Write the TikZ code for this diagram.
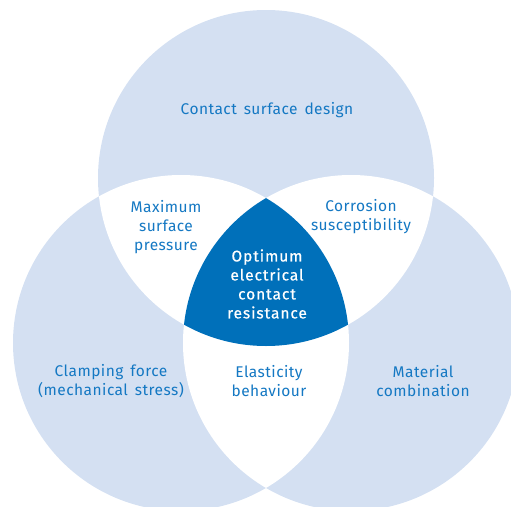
\documentclass[tikz,border=0pt]{standalone}
\usepackage{fontspec}
\setmainfont{Fira Sans}
\newfontfamily\lblfont[LetterSpace=3,WordSpace=1.5]{Fira Sans}
\newfontfamily\corefont[LetterSpace=6,FakeBold=0.6]{Fira Sans}
\definecolor{lightblue}{RGB}{212,224,242}
\definecolor{darkblue}{RGB}{0,112,186}
\definecolor{textblue}{RGB}{20,120,195}
\begin{document}
\begin{tikzpicture}[x=1pt,y=-1pt,
  lbl/.style={text=textblue,align=center,font=\lblfont\fontsize{15.5}{19}\selectfont,inner sep=0pt},
  core/.style={text=white,align=center,font=\corefont\fontsize{15.5}{19}\selectfont,inner sep=0pt}]
\useasboundingbox (0,0) rectangle (511,506);
\def\R{168}
\coordinate (T) at (266,178);
\coordinate (L) at (181,343);
\coordinate (Rr) at (351,343);
\fill[lightblue] (T) circle (\R);
\fill[lightblue] (L) circle (\R);
\fill[lightblue] (Rr) circle (\R);
\begin{scope}\clip (T) circle (\R); \fill[white] (L) circle (\R); \end{scope}
\begin{scope}\clip (T) circle (\R); \fill[white] (Rr) circle (\R); \end{scope}
\begin{scope}\clip (L) circle (\R); \fill[white] (Rr) circle (\R); \end{scope}
\begin{scope}\clip (T) circle (\R); \clip (L) circle (\R); \fill[darkblue] (Rr) circle (\R); \end{scope}
\node[lbl] (csd) at (267,110) {Contact surface design};
\node[lbl] (msp) at (166,227) {Maximum\\surface\\pressure};
\node[lbl] (cor) at (361,217) {Corrosion\\susceptibility};
\node[core] (oec) at (267,284) {Optimum\\electrical\\contact\\resistance};
\node[lbl] (clf) at (111,381) {Clamping force\\(mechanical stress)};
\node[lbl] (elb) at (269,381) {Elasticity\\behaviour};
\node[lbl] (mat) at (423,381) {Material\\combination};
\end{tikzpicture}
\end{document}
